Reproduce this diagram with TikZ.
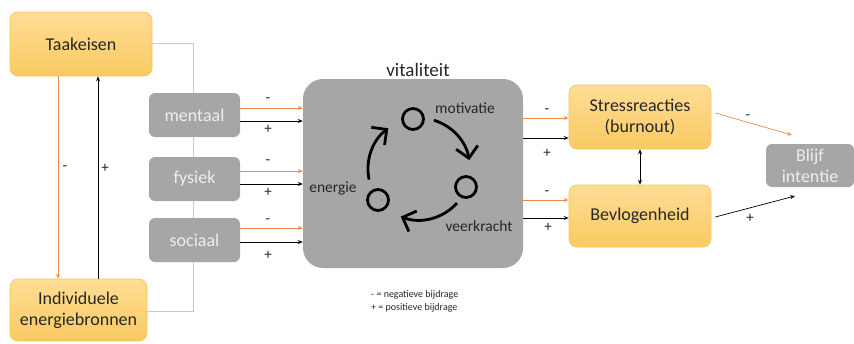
\documentclass[tikz,border=0pt]{standalone}
\usepackage{fontspec}
\setmainfont{Carlito}
\usetikzlibrary{arrows.meta}

\definecolor{boxtop}{HTML}{FFDD95}
\definecolor{boxbot}{HTML}{F9CA62}
\definecolor{boxline}{HTML}{F4C55A}
\definecolor{greybox}{HTML}{A6A6A6}
\definecolor{greytext}{HTML}{EEEEEE}
\definecolor{neg}{HTML}{EE8A4E}
\definecolor{linkgrey}{HTML}{C9C9C9}
\definecolor{ink}{HTML}{262626}

\tikzset{
  yellowbox/.style={rounded corners=8pt, top color=boxtop, bottom color=boxbot,
    draw=boxline, line width=0.6pt, align=center, text=ink,
    font=\fontsize{18}{21}\selectfont, inner sep=0pt},
  greyblock/.style={rounded corners=6pt, fill=greybox, text=greytext,
    align=center, font=\fontsize{18}{21}\selectfont, inner sep=0pt},
  negarrow/.style={draw=neg, line width=0.9pt, -{Stealth[length=5pt,width=4pt]}},
  posarrow/.style={draw=black, line width=0.9pt, -{Stealth[length=5pt,width=4pt]}},
  sign/.style={font=\fontsize{15}{15}\selectfont, text=ink, inner sep=0pt},
  ring/.style={draw=black, line width=2.8pt, circle, minimum size=21pt, inner sep=0pt},
  cyc/.style={line width=2.8pt, -{Straight Barb[length=11pt,width=22pt,line width=2.8pt]}},
  cyclabel/.style={font=\fontsize{15.5}{17}\selectfont, text=ink, inner sep=0pt}
}

\begin{document}
\begin{tikzpicture}[x=1pt, y=-1pt]
\useasboundingbox (0,0) rectangle (854,343);

% left column
\node[yellowbox, minimum width=142pt, minimum height=64pt] (taak) at (81,44) {Taakeisen};
\node[yellowbox, minimum width=137pt, minimum height=62pt] (indiv) at (78.5,310)
  {Individuele\\energiebronnen};

% grey link behind the three resource blocks
\coordinate (ltop) at (193,43);
\coordinate (lbot) at (193,311);
\draw[draw=linkgrey, line width=0.8pt] (taak.east |- ltop) -- (ltop) -- (lbot) -- (indiv.east |- lbot);

\node[greyblock, minimum width=91pt, minimum height=44pt] (mentaal) at (194.5,115) {mentaal};
\node[greyblock, minimum width=91pt, minimum height=44pt] (fysiek) at (194.5,179) {fysiek};
\node[greyblock, minimum width=91pt, minimum height=44pt] (sociaal) at (194.5,240) {sociaal};

% vertical links between the two yellow boxes
\draw[negarrow] (taak.south -| 58,0) -- (indiv.north -| 58,0);
\node[sign] at (65,168) {-};
\draw[posarrow] (indiv.north -| 98,0) -- (taak.south -| 98,0);
\node[sign] at (105,168) {+};

% vitality block
\node[rounded corners=20pt, fill=greybox, minimum width=220pt, minimum height=189pt, inner sep=0pt]
  (vit) at (413,173.5) {};
\node[font=\fontsize{19}{21}\selectfont, text=ink, anchor=base] (vittitle) at (418,76) {vitaliteit};

% inputs into the vitality block
\foreach \src/\yn/\yp/\ln/\lp in {mentaal/108/121/100/129, fysiek/171/184/162/192, sociaal/228/242/221/255}{
  \draw[negarrow] (\src.east |- 0,\yn) -- (vit.west |- 0,\yn);
  \draw[posarrow] (\src.east |- 0,\yp) -- (vit.west |- 0,\yp);
  \node[sign] at (268,\ln) {-};
  \node[sign] at (268,\lp) {+};
}

% cycle inside the vitality block
\coordinate (cc) at (419,169);
\node[ring] (mot) at (413,119) {};
\node[ring] (veer) at (466,187) {};
\node[ring] (ener) at (378,200) {};
\draw[cyc] ([shift={(-73:51)}]cc) arc[start angle=-73, end angle=-10, radius=51];
\draw[cyc] ([shift={(42:51)}]cc) arc[start angle=42, end angle=111, radius=51];
\draw[cyc] ([shift={(168:51)}]cc) arc[start angle=168, end angle=233, radius=51];
\node[cyclabel] (motlabel) at (465,108) {motivatie};
\node[cyclabel] (enerlabel) at (333,188) {energie};
\node[cyclabel] (veerlabel) at (479,226) {veerkracht};

% outcome boxes
\node[yellowbox, minimum width=142pt, minimum height=64pt] (stress) at (640,117)
  {Stressreacties\\(burnout)};
\node[yellowbox, minimum width=142pt, minimum height=62pt] (bevl) at (640,216) {Bevlogenheid};
\draw[line width=0.9pt, {Stealth[length=5pt,width=4pt]}-{Stealth[length=5pt,width=4pt]}]
  (stress.south) -- (bevl.north);

\draw[negarrow] (vit.east |- 0,118) -- (stress.west |- 0,118);
\draw[posarrow] (vit.east |- 0,138) -- (stress.west |- 0,138);
\node[sign] at (547,111) {-};
\node[sign] at (547,153) {+};
\draw[negarrow] (vit.east |- 0,200) -- (bevl.west |- 0,200);
\draw[posarrow] (vit.east |- 0,218) -- (bevl.west |- 0,218);
\node[sign] at (547,193) {-};
\node[sign] at (548,227) {+};

% intention to stay
\node[greyblock, minimum width=88pt, minimum height=43pt] (blijf) at (810,165.5) {Blijf\\intentie};
\coordinate (bin1) at (792,135);
\coordinate (bin2) at (795,196);
\draw[negarrow, line width=0.7pt] ([shift={(4,-4)}]stress.east) -- (bin1);
\draw[posarrow, line width=0.7pt] ([shift={(4,1)}]bevl.east) -- (bin2);
\node[sign] at (748,117) {-};
\node[sign] at (750,218) {+};

% legend
\node[font=\fontsize{10}{13}\selectfont, text=ink, align=left, anchor=north west, inner sep=0pt]
  (legend) at (371,290) {- = negatieve bijdrage\\+ = positieve bijdrage};
\end{tikzpicture}
\end{document}
